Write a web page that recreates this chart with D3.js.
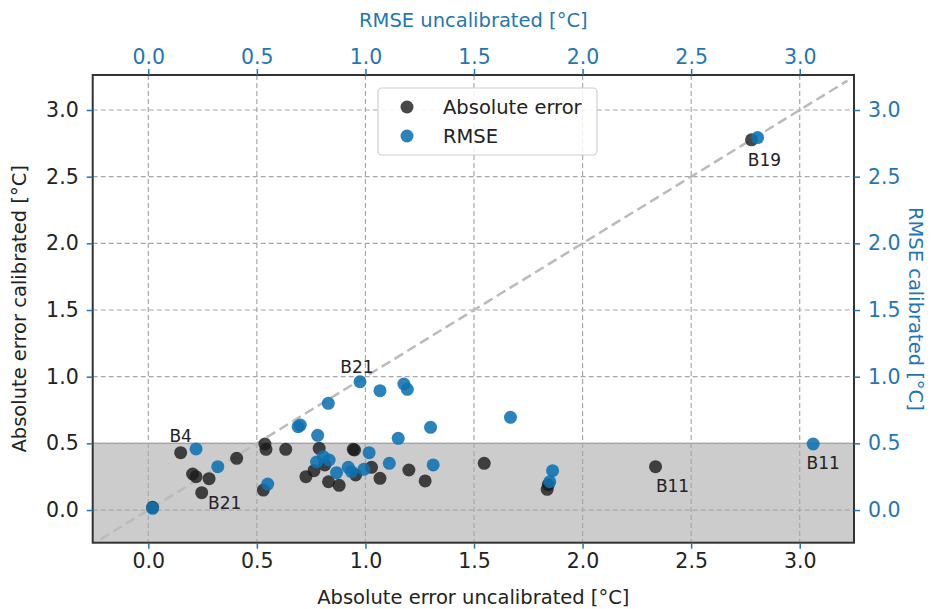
<!DOCTYPE html>
<html><head><meta charset="utf-8">
<script src="https://cdn.jsdelivr.net/npm/d3@7/dist/d3.min.js"></script>
<style>body{margin:0;background:#fff} text{font-family:"DejaVu Sans",sans-serif}</style>
</head><body><svg id="c" width="933" height="609"></svg>
<script>
// Absolute error (black) — uncalibrated vs calibrated
const absUncal = [0.02,0.149,0.204,0.22,0.28,0.246,0.407,0.537,0.542,0.53,0.633,0.726,0.763,0.787,0.813,0.83,0.879,0.944,0.95,0.955,1.028,1.067,1.20,1.275,1.547,1.837,1.842,2.336,2.778];
const absCal   = [0.02,0.43,0.27,0.25,0.235,0.13,0.388,0.495,0.455,0.15,0.455,0.25,0.295,0.463,0.338,0.212,0.185,0.455,0.45,0.263,0.32,0.238,0.30,0.218,0.35,0.155,0.19,0.325,2.776];
// RMSE (blue) — uncalibrated vs calibrated
const rmseUncal = [0.02,0.22,0.32,0.55,0.69,0.70,0.78,0.829,0.975,1.067,0.775,0.806,0.833,0.867,0.921,0.936,0.993,1.017,1.11,1.177,1.193,1.30,1.151,1.668,1.312,1.862,1.849,3.062,2.806];
const rmseCal   = [0.013,0.458,0.325,0.195,0.625,0.637,0.56,0.80,0.962,0.895,0.36,0.40,0.375,0.28,0.32,0.287,0.305,0.43,0.35,0.945,0.905,0.62,0.538,0.695,0.338,0.295,0.212,0.495,2.793];
const xTicks = [0,0.5,1.0,1.5,2.0,2.5,3.0];
const yTicks = [0,0.5,1.0,1.5,2.0,2.5,3.0];
const threshold = 0.5;
const seriesNames = ["Absolute error","RMSE"];
// annotations: series (0 abs, 1 rmse), point index, label
const annSeries = [0,0,1,0,1,0];
const annIndex  = [1,5,8,27,27,28];
const annText   = ["B4","B21","B21","B11","B11","B19"];
// label offsets (px, layout only)
const annDx = [0,23,-3,17,10,13];
const annDy = [-11,16,-9,25,25,26];

const L=92.7,R=854,T=75,B=542.7;
const blue="#1f77b4", ptBlue="#0d72b2", dark="#1a1a1a";
const svg=d3.select("#c");
const x=d3.scaleLinear().domain([-0.256,3.25]).range([L,R]);
const y=d3.scaleLinear().domain([-0.245,3.2625]).range([B,T]);

svg.append("defs").append("clipPath").attr("id","clip").append("rect")
  .attr("x",L).attr("y",T).attr("width",R-L).attr("height",B-T);
const plot=svg.append("g").attr("clip-path","url(#clip)");

// shaded span below threshold
plot.append("rect").attr("x",L).attr("width",R-L)
  .attr("y",y(threshold)).attr("height",B-y(threshold))
  .attr("fill","#cccccc");
plot.append("line").attr("x1",L).attr("x2",R).attr("y1",y(threshold)).attr("y2",y(threshold))
  .attr("stroke","#999").attr("stroke-width",1.2);

// grid
plot.selectAll(".gx").data(xTicks).join("line")
  .attr("x1",d=>x(d)).attr("x2",d=>x(d)).attr("y1",T).attr("y2",B)
  .attr("stroke","#a8a8a8").attr("stroke-width",1.2).attr("stroke-dasharray","5,3");
plot.selectAll(".gy").data(yTicks).join("line")
  .attr("y1",d=>y(d)).attr("y2",d=>y(d)).attr("x1",L).attr("x2",R)
  .attr("stroke","#a8a8a8").attr("stroke-width",1.2).attr("stroke-dasharray","5,3");

// diagonal
plot.append("line").attr("x1",x(-0.22)).attr("y1",y(-0.22)).attr("x2",x(3.22)).attr("y2",y(3.22))
  .attr("stroke","#bbbbbb").attr("stroke-width",2.5).attr("stroke-dasharray","10,5");

// points
const absData=absUncal.map((v,i)=>[v,absCal[i]]);
const rmseData=rmseUncal.map((v,i)=>[v,rmseCal[i]]);
plot.selectAll(".pa").data(absData).join("circle")
  .attr("cx",d=>x(d[0])).attr("cy",d=>y(d[1])).attr("r",6.5)
  .attr("fill",dark).attr("fill-opacity",0.8);
plot.selectAll(".pr").data(rmseData).join("circle")
  .attr("cx",d=>x(d[0])).attr("cy",d=>y(d[1])).attr("r",6.5)
  .attr("fill",ptBlue).attr("fill-opacity",0.88);

// annotations
const allData=[absData,rmseData];
annText.forEach((t,k)=>{
  const p=allData[annSeries[k]][annIndex[k]];
  svg.append("text").attr("x",x(p[0])+annDx[k]).attr("y",y(p[1])+annDy[k])
    .attr("text-anchor","middle").attr("font-size",17).attr("fill","#222").text(t);
});

// frame
svg.append("rect").attr("x",L).attr("y",T).attr("width",R-L).attr("height",B-T)
  .attr("fill","none").attr("stroke","#333").attr("stroke-width",2);

// axes
function styleAxis(g,labelColor){
  g.select(".domain").remove();
  g.selectAll(".tick line").attr("stroke",blue).attr("stroke-width",1.5);
  g.selectAll(".tick text").attr("fill",labelColor).attr("font-size",20.5)
    .attr("font-family","DejaVu Sans");
}
const fmt=d3.format(".1f");
svg.append("g").attr("transform",`translate(0,${B})`)
  .call(d3.axisBottom(x).tickValues(xTicks).tickFormat(fmt).tickSize(6).tickPadding(5))
  .call(g=>styleAxis(g,"#222"));
svg.append("g").attr("transform",`translate(0,${T})`)
  .call(d3.axisTop(x).tickValues(xTicks).tickFormat(fmt).tickSize(6).tickPadding(5))
  .call(g=>styleAxis(g,blue));
svg.append("g").attr("transform",`translate(${L},0)`)
  .call(d3.axisLeft(y).tickValues(yTicks).tickFormat(fmt).tickSize(6).tickPadding(8))
  .call(g=>styleAxis(g,"#222"));
svg.append("g").attr("transform",`translate(${R},0)`)
  .call(d3.axisRight(y).tickValues(yTicks).tickFormat(fmt).tickSize(6).tickPadding(8))
  .call(g=>styleAxis(g,blue));

// axis labels
const cx=(L+R)/2, cy=(T+B)/2;
svg.append("text").attr("x",cx).attr("y",604).attr("text-anchor","middle")
  .attr("font-size",19.5).attr("fill","#222").text("Absolute error uncalibrated [°C]");
svg.append("text").attr("x",cx).attr("y",27).attr("text-anchor","middle")
  .attr("font-size",19.5).attr("fill",blue).text("RMSE uncalibrated [°C]");
svg.append("text").attr("transform",`translate(26,${cy}) rotate(-90)`).attr("text-anchor","middle")
  .attr("font-size",19.5).attr("fill","#222").text("Absolute error calibrated [°C]");
svg.append("text").attr("transform",`translate(909,${cy}) rotate(90)`).attr("text-anchor","middle")
  .attr("font-size",19.5).attr("fill",blue).text("RMSE calibrated [°C]");

// legend
const lg=svg.append("g");
lg.append("rect").attr("x",378).attr("y",88).attr("width",219).attr("height",67).attr("rx",4)
  .attr("fill","#fff").attr("fill-opacity",0.85).attr("stroke","#cfcfcf").attr("stroke-width",1.2);
const legColors=[dark,ptBlue], legOp=[0.8,0.88];
seriesNames.forEach((n,i)=>{
  const yy=107+i*29;
  lg.append("circle").attr("cx",407).attr("cy",yy).attr("r",6.5).attr("fill",legColors[i]).attr("fill-opacity",legOp[i]);
  lg.append("text").attr("x",443).attr("y",yy+7).attr("font-size",19.5).attr("fill","#222").text(n);
});
</script></body></html>
